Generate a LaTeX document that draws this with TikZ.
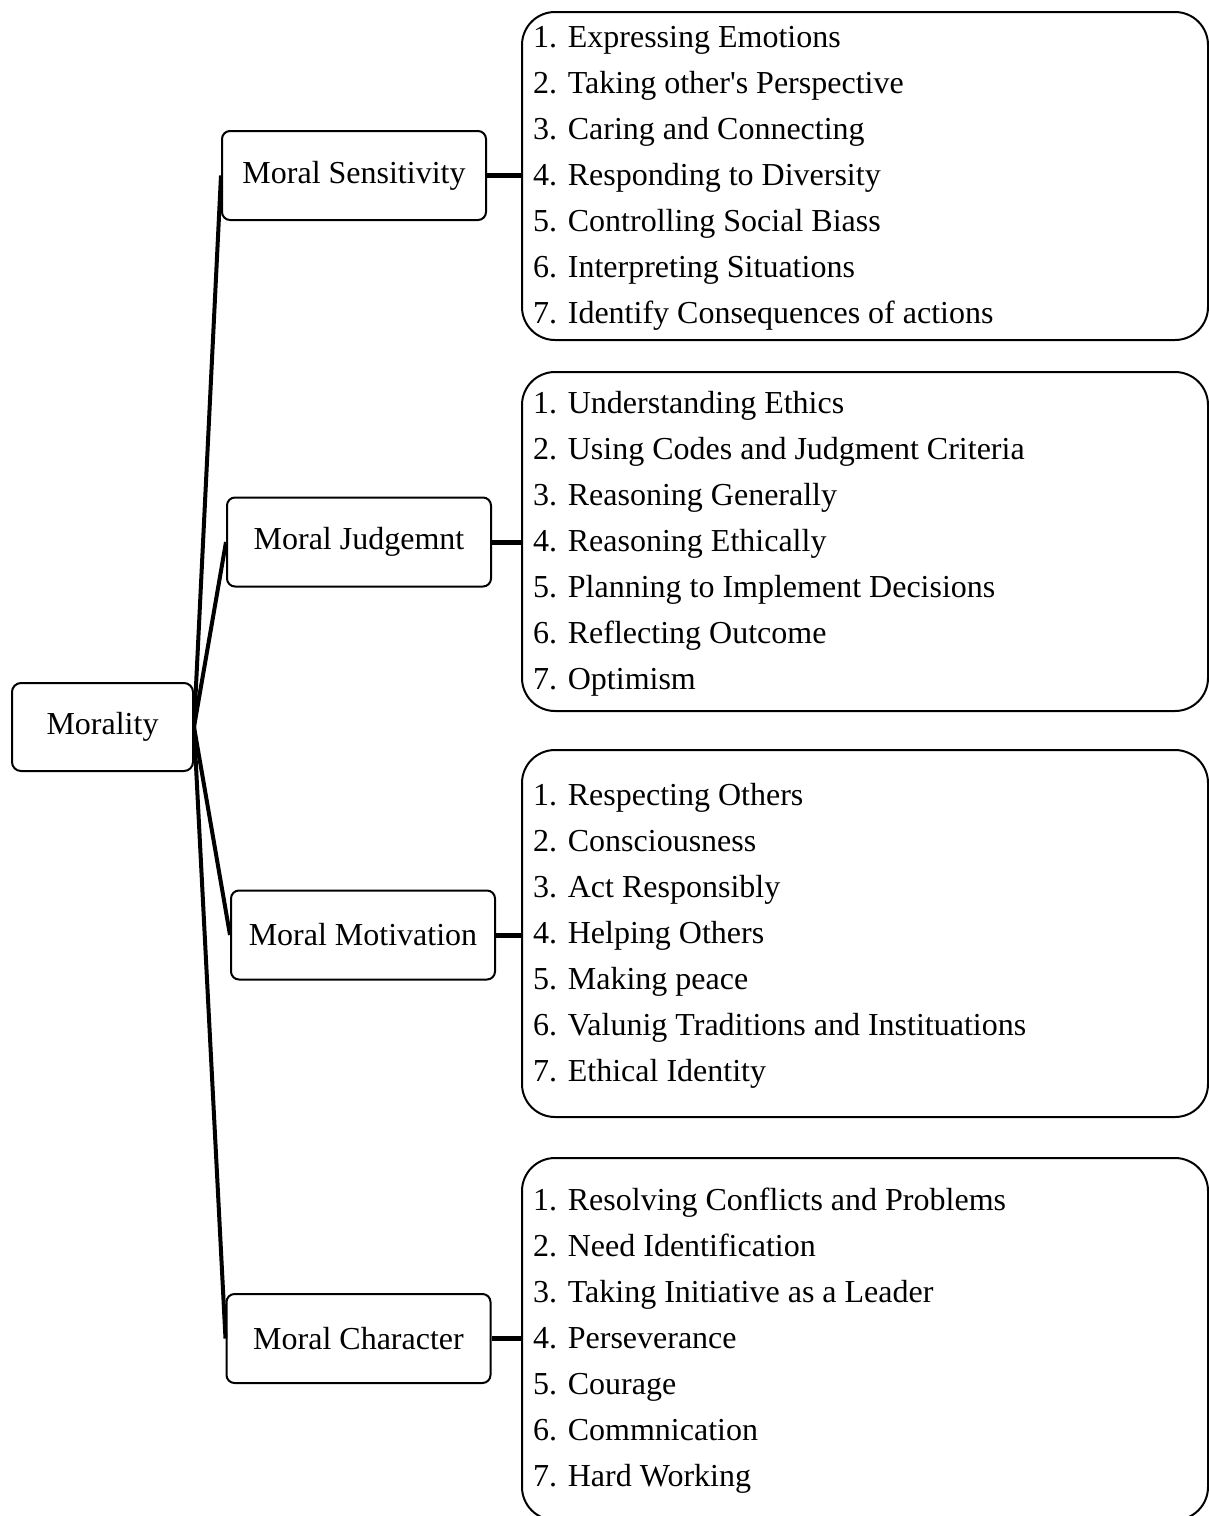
\documentclass[tikz,border=0pt]{standalone}
\usepackage{fontspec}
\setmainfont{Liberation Serif}
\begin{document}
\begin{tikzpicture}[x=1pt,y=-1pt,
  rootbox/.style={draw,line width=2pt,rounded corners=9pt,minimum width=181pt,minimum height=88pt,font=\fontsize{32}{38}\selectfont},
  subbox/.style={draw,line width=2pt,rounded corners=8pt,minimum width=264pt,minimum height=89pt,font=\fontsize{32}{38}\selectfont},
  listbox/.style={draw,line width=2pt,rounded corners=33pt,minimum width=686pt},
  listtext/.style={anchor=west,align=left,inner sep=0pt,font=\fontsize{32}{46}\selectfont},
  branch/.style={line width=4pt},
  link/.style={line width=5pt}
]
\useasboundingbox (0,0) rectangle (1209,1516);

% root
\node[rootbox] (root) at (102.5,727) {Morality};

% second level
\node[subbox] (sens) at (354,175.5) {Moral Sensitivity};
\node[subbox] (judg) at (359,542) {Moral Judgemnt};
\node[subbox] (moti) at (363,935) {Moral Motivation};
\node[subbox] (char) at (358.5,1338.5) {Moral Character};

% item boxes
\node[listbox,minimum height=328pt] (lsens) at (865,176) {};
\node[listbox,minimum height=339pt] (ljudg) at (865,541.5) {};
\node[listbox,minimum height=367pt] (lmoti) at (865,933.5) {};
\node[listbox,minimum height=362pt] (lchar) at (865,1339) {};

\node[listtext] (tsens) at ([xshift=12pt,yshift=-2pt]lsens.west) {1. Expressing Emotions\\2. Taking other\textquotesingle s Perspective\\3. Caring and Connecting\\4. Responding to Diversity\\5. Controlling Social Biass\\6. Interpreting Situations\\7. Identify Consequences of actions};
\node[listtext] (tjudg) at ([xshift=12pt,yshift=-2pt]ljudg.west) {1. Understanding Ethics\\2. Using Codes and Judgment Criteria\\3. Reasoning Generally\\4. Reasoning Ethically\\5. Planning to Implement Decisions\\6. Reflecting Outcome\\7. Optimism};
\node[listtext] (tmoti) at ([xshift=12pt,yshift=-2pt]lmoti.west) {1. Respecting Others\\2. Consciousness\\3. Act Responsibly\\4. Helping Others\\5. Making peace\\6. Valunig Traditions and Instituations\\7. Ethical Identity};
\node[listtext] (tchar) at ([xshift=12pt,yshift=-2pt]lchar.west) {1. Resolving Conflicts and Problems\\2. Need Identification\\3. Taking Initiative as a Leader\\4. Perseverance\\5. Courage\\6. Commnication\\7. Hard Working};

% branches from the root
\foreach \s in {sens,judg,moti,char}
  \draw[branch] (root.east) -- (\s.west);

% links to the item boxes
\draw[link] (sens.east) -- (sens.east -| lsens.west);
\draw[link] (judg.east) -- (judg.east -| ljudg.west);
\draw[link] (moti.east) -- (moti.east -| lmoti.west);
\draw[link] (char.east) -- (char.east -| lchar.west);
\end{tikzpicture}
\end{document}
